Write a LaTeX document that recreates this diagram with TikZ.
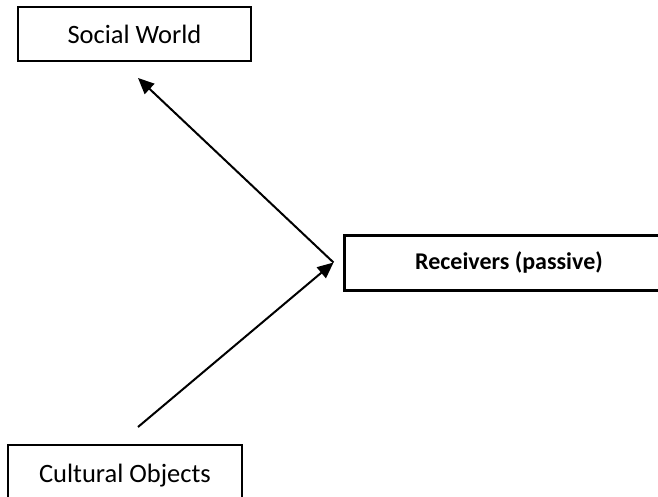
\documentclass[tikz,border=0pt]{standalone}
\usepackage{fontspec}
\setmainfont{Carlito}
\usepackage{tikz}
\usetikzlibrary{arrows.meta}

\tikzset{
    thinbox/.style={draw=black, line width=1.3pt, minimum height=54pt, inner sep=0pt, font=\fontsize{26.5}{31}\selectfont},
    thickbox/.style={draw=black, line width=3pt, minimum height=55pt, inner sep=0pt, font=\fontsize{24}{29}\selectfont\bfseries},
    link/.style={line width=2pt, -{Triangle[length=16pt,width=14pt]}}
}

\begin{document}
\begin{tikzpicture}[x=1pt, y=-1pt]
    \clip (0,0) rectangle (658,497);
    \fill[white] (0,0) rectangle (658,497);

    % boxes
    \node[thinbox, minimum width=233pt] (social) at (134.5,34) {Social World};
    \node[thickbox, minimum width=330pt] (recv) at (509,262.5) {Receivers (passive)};
    \node[thinbox, minimum width=234pt, minimum height=62pt] (cultural) at (125,476) {Cultural Objects};

    % arrow ends
    \coordinate (hub) at ([xshift=-9pt]recv.west);
    \coordinate (up) at (138,78);
    \coordinate (down) at (138,427);

    % arrows
    \draw[link] (hub) -- (up);
    \draw[link] (down) -- (hub);
\end{tikzpicture}
\end{document}
